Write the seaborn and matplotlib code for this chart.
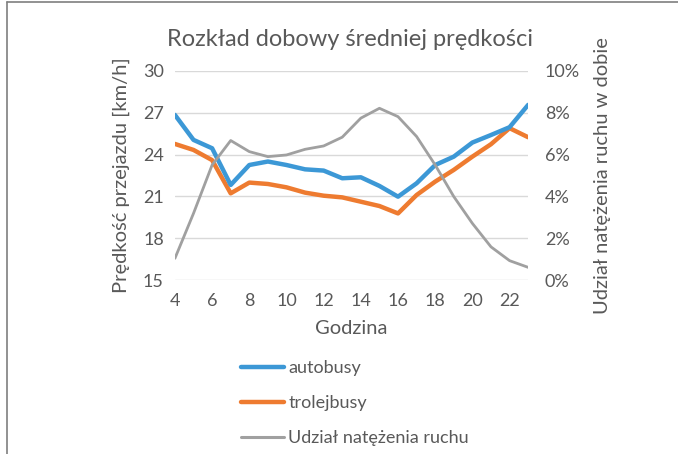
import matplotlib
matplotlib.use("Agg")
import matplotlib.pyplot as plt
import seaborn as sns
import pandas as pd
from matplotlib.lines import Line2D
from matplotlib.ticker import FuncFormatter

hours = list(range(4, 24))
autobusy = [26.84, 25.05, 24.45, 21.82, 23.25, 23.5, 23.25, 22.94, 22.85, 22.3,
            22.37, 21.75, 20.98, 21.94, 23.25, 23.85, 24.86, 25.4, 25.96, 27.56]
trolejbusy = [24.76, 24.33, 23.6, 21.22, 21.99, 21.89, 21.65, 21.27, 21.05, 20.93,
              20.62, 20.31, 19.78, 21.1, 22.06, 22.9, 23.85, 24.74, 25.89, 25.24]
udzial = [1.04, 3.19, 5.5, 6.67, 6.14, 5.9, 5.98, 6.25, 6.41, 6.83,
          7.74, 8.21, 7.81, 6.86, 5.5, 3.99, 2.71, 1.59, 0.93, 0.61]
y_ticks = [15, 18, 21, 24, 27, 30]
y2_ticks = [0, 2, 4, 6, 8, 10]
x_ticks = [4, 6, 8, 10, 12, 14, 16, 18, 20, 22]

title = "Rozkład dobowy średniej prędkości"
labels = ["autobusy", "trolejbusy", "Udział natężenia ruchu"]

sns.set_theme(style="white")
plt.rcParams['font.family'] = ['Lato', 'DejaVu Sans']

TXT = "#595959"
C_BLUE = "#3C98D6"
C_ORANGE = "#EE7B30"
C_GRAY = "#A0A0A0"

df = pd.DataFrame({"h": hours, "a": autobusy, "t": trolejbusy, "u": udzial})

fig = plt.figure(figsize=(6.78, 4.54), dpi=100)
ax = fig.add_axes([0.258, 0.383, 0.521, 0.461])
ax2 = ax.twinx()

sns.lineplot(data=df, x="h", y="a", ax=ax, color=C_BLUE, lw=3.2,
             solid_joinstyle="round", solid_capstyle="round", zorder=3)
sns.lineplot(data=df, x="h", y="t", ax=ax, color=C_ORANGE, lw=3.2,
             solid_joinstyle="round", solid_capstyle="round", zorder=2)
sns.lineplot(data=df, x="h", y="u", ax=ax2, color=C_GRAY, lw=2.0,
             solid_joinstyle="round", solid_capstyle="round")

ax.set_xlim(4, 23)
ax.set_ylim(15, 30)
ax2.set_ylim(0, 10)
ax.set_xticks(x_ticks)
ax.set_yticks(y_ticks)
ax2.set_yticks(y2_ticks)
ax2.yaxis.set_major_formatter(FuncFormatter(lambda v, p: f"{int(v)}%"))

ax.yaxis.grid(True, color="#D9D9D9", lw=1.0)
ax.xaxis.grid(False)
ax2.grid(False)
for a in (ax, ax2):
    for s in a.spines.values():
        s.set_visible(False)
    a.tick_params(length=0, labelsize=13, colors=TXT)
ax.tick_params(axis="y", pad=8)
ax2.tick_params(axis="y", pad=12)
ax.tick_params(axis="x", pad=9)

ax.set_xlabel("Godzina", fontsize=14.5, color=TXT, labelpad=8)
ax.set_ylabel("Prędkość przejazdu [km/h]", fontsize=14.5, color=TXT, labelpad=9)
ax2.set_ylabel("Udział natężenia ruchu w dobie", fontsize=14.5, color=TXT, labelpad=10)

fig.text(0.516, 0.914, title, ha="center", va="center", fontsize=17, color=TXT)

handles = [Line2D([], [], color=C_BLUE, lw=3.2),
           Line2D([], [], color=C_ORANGE, lw=3.2),
           Line2D([], [], color=C_GRAY, lw=2.2)]
leg = fig.legend(handles, labels, loc="upper left", bbox_to_anchor=(0.345, 0.222),
                 frameon=False, fontsize=13, handlelength=2.4, handletextpad=0.2,
                 labelspacing=1.05, borderaxespad=0)
for t in leg.get_texts():
    t.set_color(TXT)

# frame lines of the original figure box
fig.add_artist(Line2D([0.0105, 0.0105], [0, 0.996], transform=fig.transFigure,
                      color="#7F7F7F", lw=1.2))
fig.add_artist(Line2D([0.0105, 1.0], [0.996, 0.996], transform=fig.transFigure,
                      color="#7F7F7F", lw=1.2))

fig.savefig("out.png", dpi=100)
